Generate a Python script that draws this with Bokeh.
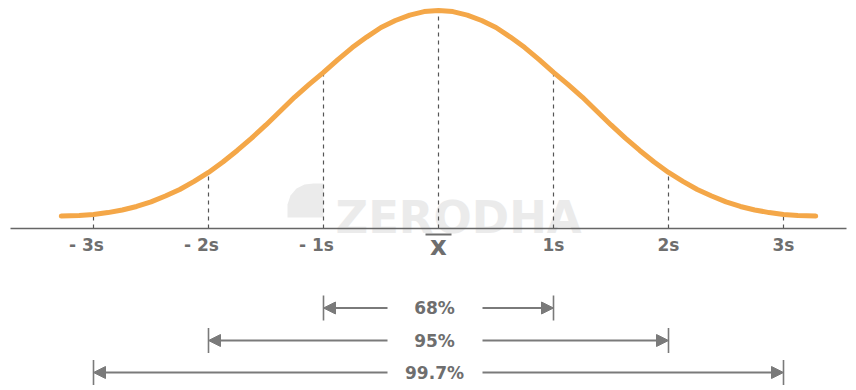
from bokeh.plotting import figure
from bokeh.models import Range1d, Arrow, NormalHead
from bokeh.core.properties import value
from bokeh.embed import file_html
from bokeh.resources import INLINE

# Bell curve, x in standard deviations, height relative to the peak (right half;
# the left half mirrors it)
half_x = [0.0, 0.125, 0.25, 0.375, 0.5, 0.625, 0.75, 0.875, 1.0, 1.125, 1.25,
          1.375, 1.5, 1.625, 1.75, 1.875, 2.0, 2.125, 2.25, 2.375, 2.5, 2.625,
          2.75, 2.875, 3.0, 3.125, 3.28]
half_y = [1.000, 0.995, 0.979, 0.954, 0.922, 0.878, 0.830, 0.775, 0.716, 0.661,
          0.603, 0.539, 0.475, 0.415, 0.358, 0.305, 0.257, 0.216, 0.179, 0.149,
          0.122, 0.101, 0.085, 0.073, 0.064, 0.060, 0.057]
curve_x = [-v for v in half_x[:0:-1]] + half_x
curve_y = half_y[:0:-1] + half_y

# Axis ticks
tick_pos = [-3, -2, -1, 0, 1, 2, 3]
tick_labels = ["- 3s", "- 2s", "- 1s", "", "1s", "2s", "3s"]
mean_label = "x"

# Coverage bands
band_k = [1, 2, 3]
band_labels = ["68%", "95%", "99.7%"]

W, H = 856, 390
PX_PER_SD = 115.0
CENTER_PX = 438.0
AXIS_PX = 228.0
PX_PER_UNIT = 218.0


def sx(px):
    return (px - CENTER_PX) / PX_PER_SD


def sy(py):
    return (AXIS_PX - py) / PX_PER_UNIT


p = figure(width=W, height=H, output_backend="svg", toolbar_location=None,
           x_range=Range1d(sx(0), sx(W)), y_range=Range1d(sy(H), sy(0)),
           min_border=0, outline_line_color=None, background_fill_color="white",
           border_fill_color="white")
p.axis.visible = False
p.grid.visible = False

GREY = "#6e6e6e"
FONT = value("DejaVu Sans")

# faint watermark behind the curve
logo_px = [(287, 217), (287, 204), (290, 195), (296, 188), (304, 184),
           (313, 183), (323, 183), (323, 217)]
p.patch([sx(a) for a, b in logo_px], [sy(b) for a, b in logo_px],
        fill_color="#ebebeb", line_color=None)
p.text(x=[sx(335)], y=[sy(217)], text=["ZERODHA"], text_font=FONT,
       text_font_style="bold", text_font_size="45px", text_color="#ebebeb",
       text_align="left", text_baseline="alphabetic")

# dashed guides from the axis up to the curve at each tick
guide_top = [curve_y[curve_x.index(float(t))] for t in tick_pos]
p.segment(x0=tick_pos, y0=[0] * len(tick_pos), x1=tick_pos, y1=guide_top,
          line_color="#555555", line_width=1.2, line_dash="4 4")

# the curve
p.line(curve_x, curve_y, line_color="#F4A748", line_width=5,
       line_join="round", line_cap="round")

# horizontal axis line
p.segment(x0=[sx(10)], y0=[0], x1=[sx(846)], y1=[0],
          line_color="#666666", line_width=1.6)

# tick labels; the "- " prefix sits to the left of the centred "Ns"
offsets = [-7 if lab.startswith("-") else 0 for lab in tick_labels]
p.text(x=tick_pos, y=[sy(244.5)] * len(tick_pos), text=tick_labels,
       x_offset=offsets, text_font=FONT, text_font_style="bold",
       text_font_size="17px", text_color=GREY, text_align="center",
       text_baseline="middle")

# mean symbol: x with a bar
p.text(x=[0], y=[sy(245)], text=[mean_label], text_font=FONT,
       text_font_style="bold", text_font_size="26px", text_color=GREY,
       text_align="center", text_baseline="middle")
p.segment(x0=[sx(425)], y0=[sy(234)], x1=[sx(451)], y1=[sy(234)],
          line_color=GREY, line_width=2)

# coverage arrows
row_py = [307.5, 340, 372]
text_x = sx(434)
gap_left, gap_right = sx(387), sx(482)
ARROW = "#7a7a7a"
for k, lab, py in zip(band_k, band_labels, row_py):
    y = sy(py)
    for inner, outer in ((gap_left, -k), (gap_right, k)):
        p.add_layout(Arrow(x_start=inner, y_start=y, x_end=outer, y_end=y,
                           line_color=ARROW, line_width=2,
                           end=NormalHead(size=12, fill_color=ARROW,
                                          line_color=ARROW)))
    half = 12.5 / PX_PER_UNIT
    p.segment(x0=[-k, k], y0=[y - half] * 2, x1=[-k, k], y1=[y + half] * 2,
              line_color=ARROW, line_width=1.6)
    p.text(x=[text_x], y=[y], text=[lab], text_font=FONT,
           text_font_style="bold", text_font_size="17px", text_color=GREY,
           text_align="center", text_baseline="middle")

open("out.html", "w").write(file_html(p, INLINE))
